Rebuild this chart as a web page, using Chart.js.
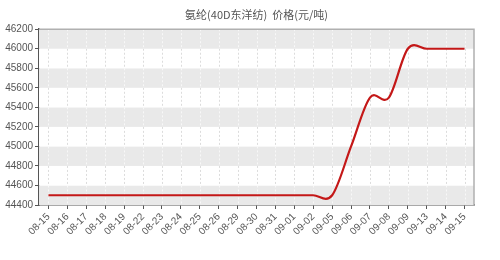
<!DOCTYPE html>
<html><head><meta charset="utf-8">
<script src="https://cdn.jsdelivr.net/npm/chart.js@4/dist/chart.umd.min.js"></script>
<style>html,body{margin:0;padding:0;background:#fff}#wrap{width:500px;height:260px}</style>
</head><body><div id="wrap"><canvas id="c" width="500" height="260"></canvas></div>
<script>
const titleText = '氨纶(40D东洋纺)  价格(元/吨)';
const categories = ['08-15','08-16','08-17','08-18','08-19','08-22','08-23','08-24','08-25','08-26','08-29','08-30','08-31','09-01','09-02','09-05','09-06','09-07','09-08','09-09','09-13','09-14','09-15'];
const prices = [44500,44500,44500,44500,44500,44500,44500,44500,44500,44500,44500,44500,44500,44500,44500,44500,45000,45500,45500,46000,46000,46000,46000];
const yMin = 44400, yMax = 46200, yStep = 200;

const bgPlugin = {
  id: 'bg',
  beforeDraw(chart) {
    const ctx = chart.ctx;
    ctx.save(); ctx.fillStyle = '#fff'; ctx.fillRect(0, 0, chart.width, chart.height); ctx.restore();
  },
  beforeDatasetsDraw(chart) {
    const {ctx, chartArea: a, scales: {x, y}} = chart;
    ctx.save();
    for (let v = yMin; v < yMax; v += yStep) {
      const gray = ((v - yMin) / yStep) % 2 === 0;
      const top = y.getPixelForValue(v + yStep), bot = y.getPixelForValue(v);
      ctx.fillStyle = gray ? '#e9e9e9' : '#ffffff';
      ctx.fillRect(a.left, top, a.right - a.left, bot - top);
      ctx.strokeStyle = gray ? '#f8f8f8' : '#dcdcdc';
      ctx.lineWidth = 1;
      ctx.setLineDash([2, 2]);
      categories.forEach((c, i) => {
        const px = Math.round(x.getPixelForValue(i)) + 0.5;
        ctx.beginPath(); ctx.moveTo(px, top); ctx.lineTo(px, bot); ctx.stroke();
      });
    }
    ctx.setLineDash([]);
    ctx.strokeStyle = '#b0b0b0';
    ctx.lineWidth = 1.5;
    ctx.beginPath();
    ctx.moveTo(a.left, a.top); ctx.lineTo(a.right, a.top); ctx.lineTo(a.right, a.bottom);
    ctx.stroke();
    ctx.restore();
  },
  // uniform Catmull-Rom spline through the data points
  beforeDatasetDraw(chart, args) {
    const meta = args.meta;
    const pts = meta.data;
    const n = pts.length - 1;
    if (n < 2) return;
    meta.dataset.updateControlPoints(chart.chartArea, 'x');
    const dx = (pts[n].x - pts[0].x) / n;
    for (let i = 0; i <= n; i++) {
      let D;
      if (i === 0) D = pts[1].y - pts[0].y;
      else if (i === n) D = pts[n].y - pts[n - 1].y;
      else D = (pts[i + 1].y - pts[i - 1].y) / 2;
      const p = pts[i];
      p.cp1x = p.x - dx / 3; p.cp1y = p.y - D / 3;
      p.cp2x = p.x + dx / 3; p.cp2y = p.y + D / 3;
    }
    meta.dataset._pointsUpdated = true;
  }
};

new Chart(document.getElementById('c'), {
  type: 'line',
  data: {
    labels: categories,
    datasets: [{
      data: prices,
      borderColor: '#c41818',
      borderWidth: 2.2,
      pointRadius: 0,
      tension: 0.4,
      fill: false
    }]
  },
  options: {
    responsive: false,
    animation: false,
    layout: {padding: {left: 0, right: 26, top: 0, bottom: 0}},
    plugins: {
      legend: {display: false},
      tooltip: {enabled: false},
      title: {
        display: true, text: titleText, color: '#555', fullSize: false,
        font: {family: '"Noto Sans CJK SC","Liberation Sans",sans-serif', size: 11, weight: 'normal'},
        padding: {top: 8, bottom: 8}
      }
    },
    scales: {
      x: {
        type: 'category',
        offset: true,
        grid: {display: true, drawOnChartArea: false, drawTicks: true, tickLength: 4, tickColor: '#555', offset: false},
        border: {display: true, color: '#555', width: 1.5},
        ticks: {color: '#555', font: {family: '"Liberation Sans",Arial,sans-serif', size: 10}, minRotation: 45, maxRotation: 45, autoSkip: false, padding: 2},
        afterFit(s) { s.height = 55; }
      },
      y: {
        min: yMin, max: yMax,
        grid: {display: true, drawOnChartArea: false, drawTicks: true, tickLength: 4, tickColor: '#555'},
        border: {display: true, color: '#555', width: 1.5},
        ticks: {stepSize: yStep, color: '#555', font: {family: '"Liberation Sans",Arial,sans-serif', size: 10}, padding: 2,
          callback: v => String(v)},
        afterFit(s) { s.width = 39; }
      }
    }
  },
  plugins: [bgPlugin]
});
</script></body></html>
